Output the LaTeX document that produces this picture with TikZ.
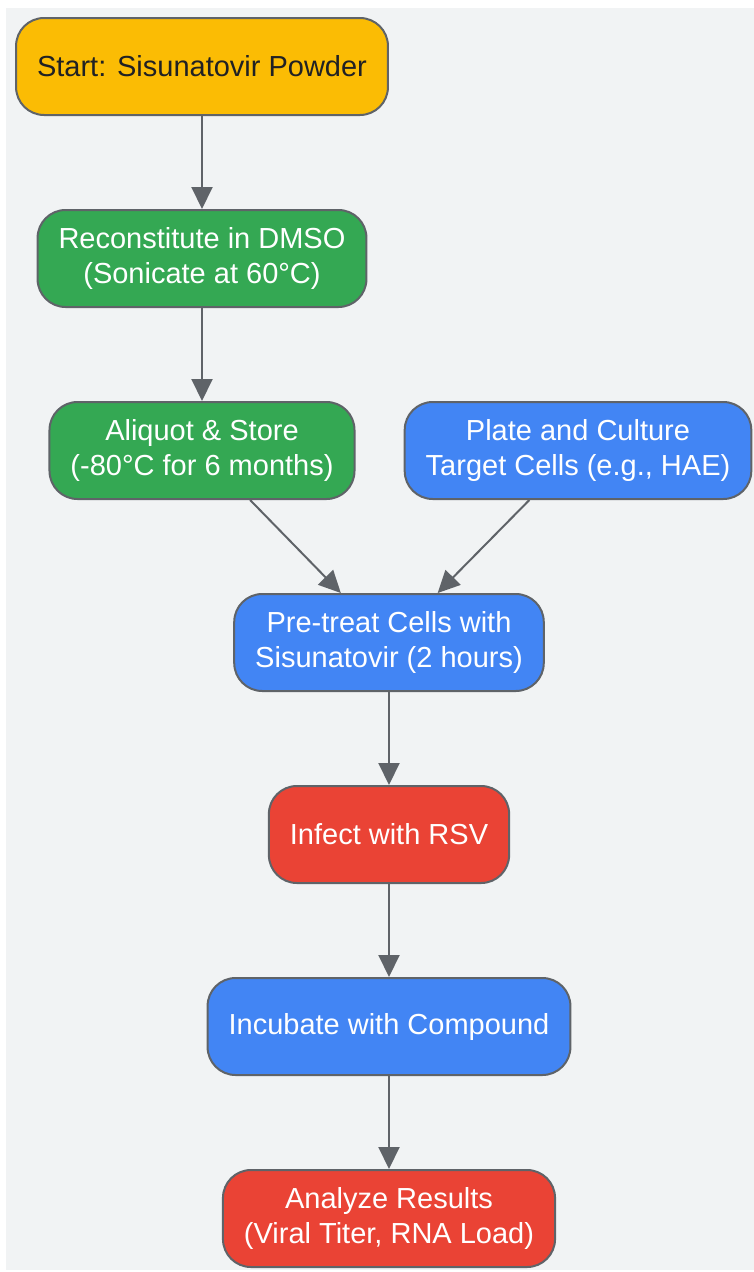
\documentclass[tikz,border=0pt]{standalone}
\usepackage{fontspec}
\setmainfont{Liberation Sans}
\usepackage{tikz}
\usetikzlibrary{arrows.meta,shapes}

\definecolor{bggray}{HTML}{F1F3F4}
\definecolor{edgegray}{HTML}{5F6368}
\definecolor{gyellow}{HTML}{FBBC04}
\definecolor{ggreen}{HTML}{34A853}
\definecolor{gblue}{HTML}{4285F4}
\definecolor{gred}{HTML}{EA4335}
\definecolor{darktext}{HTML}{202124}

\tikzset{
  stepnode/.style={rectangle, rounded corners=28pt, draw=edgegray, line width=2pt,
    minimum height=97pt, inner xsep=21pt, align=center, text=white,
    font=\fontsize{29}{35}\selectfont},
  flow/.style={draw=edgegray, line width=2pt, -{Triangle[length=22pt,width=21pt]}}
}

\begin{document}
\begin{tikzpicture}[x=1pt, y=-1pt]
\useasboundingbox (0,0) rectangle (754,1272);
\fill[bggray] (6,8) rectangle (754,1270);

\node[stepnode, fill=gyellow, text=darktext] (start) at (202,66.5) {Start: Sisunatovir Powder};
\node[stepnode, fill=ggreen] (recon) at (202,258.5) {Reconstitute in DMSO\\(Sonicate at 60°C)};
\node[stepnode, fill=ggreen] (aliquot) at (202,450.5) {Aliquot \& Store\\(-80°C for 6 months)};
\node[stepnode, fill=gblue] (plate) at (578,450.5) {Plate and Culture\\Target Cells (e.g., HAE)};
\node[stepnode, fill=gblue] (pretreat) at (389,642.5) {Pre-treat Cells with\\Sisunatovir (2 hours)};
\node[stepnode, fill=gred] (infect) at (389,834.5) {Infect with RSV};
\node[stepnode, fill=gblue] (incubate) at (389,1026.5) {Incubate with Compound};
\node[stepnode, fill=gred] (analyze) at (389,1218.5) {Analyze Results\\(Viral Titer, RNA Load)};

\draw[flow] (start) -- (recon);
\draw[flow] (recon) -- (aliquot);
\draw[flow] (aliquot) -- (pretreat);
\draw[flow] (plate) -- (pretreat);
\draw[flow] (pretreat) -- (infect);
\draw[flow] (infect) -- (incubate);
\draw[flow] (incubate) -- (analyze);
\end{tikzpicture}
\end{document}
